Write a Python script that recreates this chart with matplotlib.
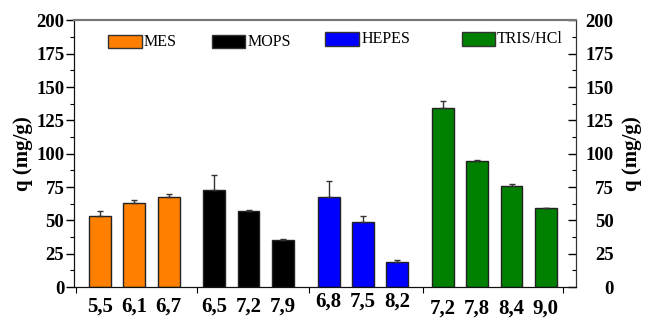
import matplotlib
matplotlib.use("Agg")
import matplotlib.pyplot as plt
from matplotlib.patches import Rectangle
from matplotlib.transforms import ScaledTranslation

# Buffer groups, pH values, adsorption capacity and upper error
buffers = ["MES", "MOPS", "HEPES", "TRIS/HCl"]
colors = ["#FF8000", "#000000", "#0000FF", "#008000"]
ph_labels = [["5,5", "6,1", "6,7"],
             ["6,5", "7,2", "7,9"],
             ["6,8", "7,5", "8,2"],
             ["7,2", "7,8", "8,4", "9,0"]]
q_values = [[53.5, 63.0, 67.5],
            [73.0, 57.0, 35.0],
            [67.5, 49.0, 19.0],
            [134.0, 94.5, 75.5, 59.0]]
q_errors = [[3.5, 2.5, 2.5],
            [11.0, 0.6, 1.3],
            [12.0, 4.0, 1.6],
            [5.5, 0.6, 1.5, 0.0]]
group_starts = [0.0, 3.33, 6.67, 10.0]
label_shift = [0, 0, 3.5, -1]   # vertical nudge of each group's pH labels (pt)

plt.rcParams["font.family"] = ["Liberation Serif", "DejaVu Serif"]

fig = plt.figure(figsize=(6.49, 3.2), dpi=100)
ax = fig.add_axes([0.114, 0.103, 0.7735, 0.833])

all_x, all_lab, shifts = [], [], []
for g, name in enumerate(buffers):
    xs = [group_starts[g] + i for i in range(len(q_values[g]))]
    ax.bar(xs, q_values[g], width=0.64, color=colors[g],
           edgecolor="#222222", linewidth=1.0, zorder=2)
    ax.errorbar(xs, q_values[g], yerr=[[0] * len(xs), q_errors[g]],
                fmt="none", ecolor="#333333", elinewidth=1.0,
                capsize=2.5, capthick=1.0, zorder=3)
    all_x += xs
    all_lab += ph_labels[g]
    shifts += [label_shift[g]] * len(xs)

ax.set_xlim(-0.76, 13.88)
ax.set_ylim(0, 200)

# x axis: labels under bars, small ticks between groups
ax.set_xticks(all_x, all_lab)
ax.set_xticks([-0.7, 2.83, 6.09, 9.42, 13.5], minor=True)
ax.tick_params(axis="x", which="major", length=0, pad=7,
               labelsize=15)
ax.tick_params(axis="x", which="minor", length=4, direction="out",
               width=0.8)
for lab, dy in zip(ax.get_xticklabels(), shifts):
    lab.set_fontweight("bold")
    lab.set_transform(lab.get_transform() +
                      ScaledTranslation(0, dy / 72, fig.dpi_scale_trans))

# left y axis
yt = list(range(0, 201, 25))
ax.set_yticks(yt)
ax.set_yticks([v + 12.5 for v in yt[:-1]], minor=True)
ax.tick_params(axis="y", which="major", direction="out", length=6,
               width=1.0, pad=1, labelsize=13.5)
ax.tick_params(axis="y", which="minor", direction="out", length=3,
               width=0.8)
for lab in ax.get_yticklabels():
    lab.set_fontweight("bold")
ax.set_ylabel("q (mg/g)", fontsize=15, fontweight="bold", labelpad=2)

# right y axis mirrors the left one
ax2 = ax.twinx()
ax2.set_ylim(0, 200)
ax2.set_yticks(yt)
ax2.set_yticks([v + 12.5 for v in yt[:-1]], minor=True)
ax2.tick_params(axis="y", which="major", direction="in", length=6,
                width=1.0, pad=27, labelsize=13.5)
ax2.tick_params(axis="y", which="minor", direction="in", length=3,
                width=0.8)
for lab in ax2.get_yticklabels():
    lab.set_fontweight("bold")
    lab.set_horizontalalignment("right")
ax2.set_ylabel("q (mg/g)", fontsize=15, fontweight="bold",
               rotation=90, labelpad=6)

for a in (ax, ax2):
    a.spines["top"].set_color("#777777")
    a.spines["top"].set_linewidth(1.5)
    a.spines["left"].set_color("#111111")
    a.spines["bottom"].set_color("#111111")
    a.spines["right"].set_color("#333333")

# legend entries spread along the top of the plot
legend_pos = [(0.068, 0.895), (0.274, 0.895), (0.501, 0.905), (0.772, 0.905)]
for (lx, ly), name, c in zip(legend_pos, buffers, colors):
    ax.add_patch(Rectangle((lx, ly), 0.067, 0.052, transform=ax.transAxes,
                           facecolor=c, edgecolor="#333333", linewidth=1.0,
                           clip_on=False, zorder=4))
    ax.text(lx + 0.071, ly + 0.026, name, transform=ax.transAxes,
            fontsize=11.5, va="center", ha="left")

fig.savefig("out.png", dpi=100)
